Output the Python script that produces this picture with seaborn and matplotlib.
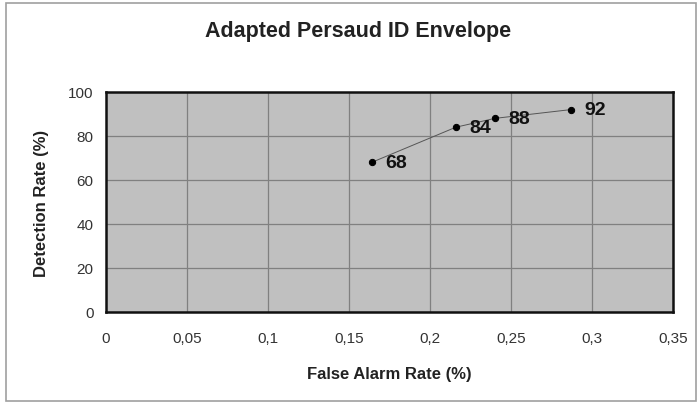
import numpy as np
import matplotlib
matplotlib.use("Agg")
import matplotlib.pyplot as plt
import seaborn as sns
import pandas as pd
from matplotlib.ticker import FuncFormatter
from matplotlib.patches import Rectangle

# values
false_alarm = [0.164, 0.216, 0.240, 0.287]
detection = [68, 84, 88, 92]
point_labels = ["68", "84", "88", "92"]
x_ticks = [0, 0.05, 0.1, 0.15, 0.2, 0.25, 0.3, 0.35]
y_ticks = [0, 20, 40, 60, 80, 100]

df = pd.DataFrame({"far": false_alarm, "det": detection})

sns.set_theme(style="white")
plt.rcParams['font.family'] = ['Liberation Sans', 'DejaVu Sans']

fig = plt.figure(figsize=(6.99, 4.10), dpi=100)
ax = fig.add_axes([0.1516, 0.2366, 0.8112, 0.5366])
ax.set_facecolor("#c0c0c0")

sns.lineplot(data=df, x="far", y="det", ax=ax, color="#555555", linewidth=0.7,
             marker="o", markersize=4.5, markerfacecolor="black", markeredgecolor="black")

# point labels to the right of each marker
for xv, yv, lab in zip(false_alarm, detection, point_labels):
    ax.annotate(lab, (xv, yv), xytext=(10, 0), textcoords="offset points",
                va="center", ha="left", fontsize=14, fontweight="bold", color="#111111")

ax.set_xlim(0, 0.35)
ax.set_ylim(0, 100)
ax.set_xticks(x_ticks)
ax.set_yticks(y_ticks)
ax.xaxis.set_major_formatter(FuncFormatter(lambda v, p: ("%g" % round(v, 2)).replace(".", ",")))
ax.grid(True, color="#808080", linewidth=0.9)
ax.set_axisbelow(True)
for s in ax.spines.values():
    s.set_color("#111111")
    s.set_linewidth(1.8)
ax.tick_params(axis="both", direction="out", length=4, width=0.8, color="#a0a0a0",
               labelsize=11, labelcolor="#333333")
ax.tick_params(axis="x", pad=10)
ax.tick_params(axis="y", pad=5)

ax.set_xlabel("False Alarm Rate (%)", fontsize=12, fontweight="bold", color="#222222", labelpad=15)
ax.set_ylabel("Detection Rate (%)", fontsize=12, fontweight="bold", color="#222222", labelpad=14)
fig.text(0.512, 0.922, "Adapted Persaud ID Envelope", ha="center", va="center",
         fontsize=15.5, fontweight="bold", color="#222222")

# chart area border
fig.patches.append(Rectangle((6 / 699, 8 / 410), 690 / 699, 398 / 410, transform=fig.transFigure,
                             fill=False, edgecolor="#a0a0a0", linewidth=1.2))

fig.savefig("out.png", dpi=100)
